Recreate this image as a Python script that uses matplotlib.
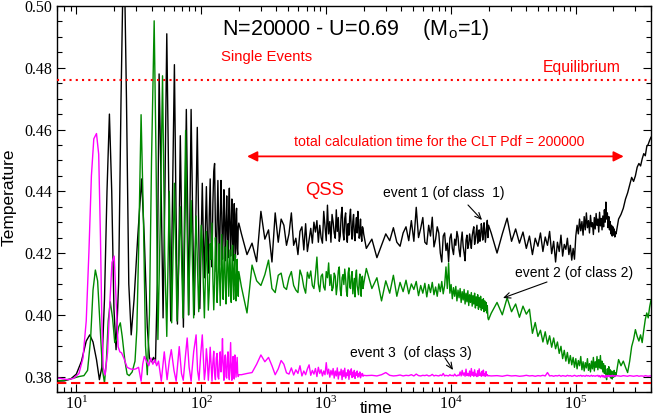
import numpy as np
import matplotlib
matplotlib.use("Agg")
import matplotlib.pyplot as plt

# ---------------- data ----------------
# time ranges of the regularly sampled segments (a, b, c, d, e)
seg_ranges = [(102, 200), (210, 2000), (2100, 20000), (21000, 210000), (220000, 400000)]

# ---- event 1 (black) ----
black_t_early = [6.5, 8.0, 9.0, 10.0, 11.0, 12.0, 12.8, 13.6, 14.5, 15.3,
                 16.0, 16.8, 17.6, 18.4, 19.2, 20.0, 20.8, 21.8, 22.8, 24.0,
                 25.2, 26.3, 27.5, 29.0, 31.0, 33.3, 35.0, 37.0, 38.5, 40.0,
                 41.5, 43.0, 44.5, 46.0, 47.8, 49.5, 51.2, 53.0, 55.0, 57.0,
                 59.0, 61.0, 62.8, 64.5, 66.3, 68.0, 70.0, 72.0, 74.0, 76.0,
                 77.8, 79.5, 81.3, 83.0, 85.5, 88.0, 90.5, 93.0, 95.3, 97.5, 100.0]
black_T_early = [0.3785, 0.3786, 0.3792, 0.3808, 0.3850, 0.3915, 0.3935, 0.3912, 0.3855, 0.3790,
                 0.3830, 0.4050, 0.4400, 0.4650, 0.4400, 0.4020, 0.3887, 0.4100, 0.4700, 0.5250,
                 0.4700, 0.4100, 0.3935, 0.4050, 0.4250, 0.4440, 0.4250, 0.3960, 0.3860, 0.3848,
                 0.3862, 0.3845, 0.4100, 0.4780, 0.4400, 0.3990, 0.4400, 0.4910, 0.4400, 0.3980,
                 0.4400, 0.4810, 0.4350, 0.3970, 0.4200, 0.4580, 0.4250, 0.3960, 0.4300, 0.4665,
                 0.4350, 0.4000, 0.4330, 0.4665, 0.4300, 0.4000, 0.4300, 0.4607, 0.4300, 0.4020, 0.4250]
black_T_a = [0.4426, 0.4250, 0.4120, 0.4280, 0.4415, 0.4260, 0.4135, 0.4320, 0.4440, 0.4240,
             0.4155, 0.4360, 0.4465, 0.4490, 0.4270, 0.4140, 0.4300, 0.4435, 0.4280, 0.4160,
             0.4310, 0.4435, 0.4330, 0.4180, 0.4260, 0.4405, 0.4310, 0.4175, 0.4290, 0.4385,
             0.4260, 0.4185, 0.4335, 0.4410, 0.4270, 0.4190, 0.4300, 0.4375, 0.4245, 0.4175,
             0.4295, 0.4360, 0.4230, 0.4185, 0.4325, 0.4345, 0.4215, 0.4195, 0.4285, 0.4297]
black_T_b = [0.4262, 0.4195, 0.4232, 0.4172, 0.4335, 0.4245, 0.4275, 0.4171, 0.4330, 0.4235,
             0.4310, 0.4290, 0.4225, 0.4262, 0.4330, 0.4225, 0.4248, 0.4195, 0.4270, 0.4285,
             0.4210, 0.4295, 0.4205, 0.4242, 0.4280, 0.4232, 0.4300, 0.4268, 0.4305, 0.4235,
             0.4290, 0.4250, 0.4232, 0.4335, 0.4288, 0.4240, 0.4355, 0.4262, 0.4302, 0.4235,
             0.4325, 0.4300, 0.4265, 0.4248, 0.4340, 0.4270, 0.4315, 0.4238, 0.4255, 0.4322,
             0.4348, 0.4268, 0.4242, 0.4312, 0.4330, 0.4262, 0.4235, 0.4295, 0.4258, 0.4318,
             0.4342, 0.4272, 0.4245, 0.4302, 0.4325, 0.4258, 0.4240, 0.4290, 0.4315, 0.4265,
             0.4335, 0.4298, 0.4248, 0.4262, 0.4310, 0.4255, 0.4238, 0.4285, 0.4280, 0.4262]
black_T_c = [0.4215, 0.4245, 0.4185, 0.4225, 0.4262, 0.4240, 0.4282, 0.4235, 0.4222, 0.4265,
             0.4285, 0.4240, 0.4305, 0.4238, 0.4348, 0.4250, 0.4280, 0.4315, 0.4235, 0.4228,
             0.4290, 0.4255, 0.4316, 0.4220, 0.4245, 0.4285, 0.4265, 0.4200, 0.4171, 0.4255,
             0.4265, 0.4208, 0.4232, 0.4172, 0.4248, 0.4262, 0.4215, 0.4195, 0.4245, 0.4225,
             0.4270, 0.4252, 0.4210, 0.4188, 0.4238, 0.4268, 0.4222, 0.4200, 0.4175, 0.4242,
             0.4258, 0.4215, 0.4228, 0.4262, 0.4240, 0.4215, 0.4255, 0.4272, 0.4285, 0.4228,
             0.4245, 0.4268, 0.4290, 0.4232, 0.4250, 0.4275, 0.4238, 0.4255, 0.4295, 0.4280,
             0.4242, 0.4258, 0.4298, 0.4272, 0.4235, 0.4262, 0.4285, 0.4306, 0.4250, 0.4290]
black_T_d = [0.4265, 0.4200, 0.4262, 0.4313, 0.4238, 0.4278, 0.4232, 0.4268, 0.4215, 0.4255,
             0.4195, 0.4248, 0.4222, 0.4265, 0.4205, 0.4252, 0.4225, 0.4270, 0.4198, 0.4238,
             0.4171, 0.4235, 0.4205, 0.4258, 0.4190, 0.4228, 0.4212, 0.4248, 0.4195, 0.4225,
             0.4177, 0.4215, 0.4180, 0.4255, 0.4290, 0.4262, 0.4310, 0.4272, 0.4302, 0.4258,
             0.4318, 0.4275, 0.4330, 0.4282, 0.4305, 0.4265, 0.4322, 0.4285, 0.4298, 0.4260,
             0.4315, 0.4278, 0.4328, 0.4290, 0.4310, 0.4268, 0.4332, 0.4288, 0.4312, 0.4275,
             0.4320, 0.4285, 0.4340, 0.4300, 0.4365, 0.4310, 0.4330, 0.4282, 0.4318, 0.4275,
             0.4302, 0.4262, 0.4290, 0.4255, 0.4285, 0.4258, 0.4278, 0.4252, 0.4268, 0.4262]
black_T_e = [0.4310, 0.4325, 0.4345, 0.4375, 0.4395, 0.4420, 0.4445, 0.4432, 0.4450, 0.4478,
             0.4490, 0.4482, 0.4505, 0.4522, 0.4515, 0.4545, 0.4552, 0.4565, 0.4575]

# ---- event 2 (green) ----
green_t_early = [6.5, 8.0, 9.5, 10.5, 11.5, 12.3, 13.0, 13.6, 14.2, 14.8,
                 15.5, 16.2, 16.8, 17.4, 18.0, 18.7, 19.5, 20.3, 21.0, 21.8,
                 22.5, 23.3, 24.5, 25.5, 26.5, 28.0, 29.5, 30.5, 31.5, 33.0,
                 34.5, 35.8, 37.0, 38.5, 40.0, 42.0, 43.5, 45.0, 47.0, 49.0,
                 51.0, 53.0, 55.5, 58.0, 61.0, 64.0, 68.0, 71.5, 75.0, 79.0,
                 83.0, 87.0, 91.0, 95.5, 100.0]
green_T_early = [0.3785, 0.3788, 0.3795, 0.3800, 0.3803, 0.3820, 0.3920, 0.4080, 0.4145, 0.4110,
                 0.3960, 0.3820, 0.3780, 0.3850, 0.3980, 0.4042, 0.3990, 0.3910, 0.3920, 0.3960,
                 0.3974, 0.3930, 0.3850, 0.3808, 0.3803, 0.3815, 0.3850, 0.3950, 0.4200, 0.4648,
                 0.4300, 0.3900, 0.3806, 0.4000, 0.4500, 0.4952, 0.4500, 0.3920, 0.4300, 0.4774,
                 0.4200, 0.3930, 0.4400, 0.3974, 0.4426, 0.3980, 0.4350, 0.3990, 0.4597, 0.4000,
                 0.4370, 0.3990, 0.4320, 0.4010, 0.4290]
green_T_a = [0.4240, 0.4100, 0.3990, 0.4120, 0.4270, 0.4150, 0.4015, 0.4080, 0.4230, 0.4180,
             0.4297, 0.4120, 0.4016, 0.4100, 0.4250, 0.4170, 0.4040, 0.4110, 0.4230, 0.4140,
             0.4030, 0.4150, 0.4260, 0.4120, 0.4050, 0.4170, 0.4220, 0.4100, 0.4035, 0.4140,
             0.4240, 0.4160, 0.4060, 0.4130, 0.4210, 0.4090, 0.4040, 0.4160, 0.4225, 0.4110,
             0.4050, 0.4150, 0.4195, 0.4080, 0.4045, 0.4130, 0.4180, 0.4100, 0.4060, 0.4140]
green_T_b = [0.4090, 0.4006, 0.4161, 0.4110, 0.4095, 0.4130, 0.4177, 0.4085, 0.4072, 0.4128,
             0.4135, 0.4090, 0.4082, 0.4120, 0.4140, 0.4095, 0.4080, 0.4072, 0.4145, 0.4125,
             0.4090, 0.4070, 0.4138, 0.4118, 0.4142, 0.4095, 0.4085, 0.4130, 0.4187, 0.4100,
             0.4075, 0.4125, 0.4132, 0.4090, 0.4080, 0.4140, 0.4120, 0.4168, 0.4095, 0.4130,
             0.4078, 0.4088, 0.4135, 0.4125, 0.4065, 0.4095, 0.4142, 0.4155, 0.4082, 0.4062,
             0.4120, 0.4130, 0.4098, 0.4148, 0.4118, 0.4075, 0.4060, 0.4135, 0.4152, 0.4090,
             0.4085, 0.4125, 0.4140, 0.4068, 0.4092, 0.4118, 0.4058, 0.4128, 0.4145, 0.4095,
             0.4080, 0.4065, 0.4112, 0.4132, 0.4088, 0.4060, 0.4120, 0.4125, 0.4085, 0.4100]
green_T_c = [0.4150, 0.4085, 0.4120, 0.4045, 0.4110, 0.4070, 0.4128, 0.4060, 0.4105, 0.4075,
             0.4112, 0.4068, 0.4100, 0.4082, 0.4108, 0.4062, 0.4095, 0.4070, 0.4102, 0.4058,
             0.4098, 0.4072, 0.4105, 0.4065, 0.4090, 0.4060, 0.4100, 0.4075, 0.4108, 0.4068,
             0.4095, 0.4155, 0.4085, 0.4168, 0.4070, 0.4098, 0.4052, 0.4088, 0.4060, 0.4092,
             0.4045, 0.4080, 0.4055, 0.4085, 0.4040, 0.4075, 0.4048, 0.4082, 0.4035, 0.4070,
             0.4042, 0.4078, 0.4030, 0.4065, 0.4040, 0.4072, 0.4028, 0.4062, 0.4035, 0.4070,
             0.4022, 0.4058, 0.4030, 0.4065, 0.4018, 0.4055, 0.4025, 0.4060, 0.4015, 0.4048,
             0.4020, 0.4052, 0.4010, 0.4045, 0.4015, 0.4040, 0.4006, 0.4030, 0.3990, 0.3984]
green_T_d = [0.4005, 0.4040, 0.4000, 0.4055, 0.4010, 0.4035, 0.3992, 0.4028, 0.4002, 0.4018,
             0.3940, 0.3975, 0.3930, 0.3950, 0.3912, 0.3945, 0.3905, 0.3932, 0.3895, 0.3925,
             0.3890, 0.3912, 0.3875, 0.3898, 0.3858, 0.3885, 0.3850, 0.3878, 0.3842, 0.3868,
             0.3838, 0.3862, 0.3830, 0.3858, 0.3825, 0.3852, 0.3835, 0.3865, 0.3822, 0.3848,
             0.3818, 0.3845, 0.3828, 0.3858, 0.3820, 0.3842, 0.3815, 0.3850, 0.3825, 0.3862,
             0.3818, 0.3848, 0.3830, 0.3865, 0.3822, 0.3855, 0.3828, 0.3868, 0.3825, 0.3850,
             0.3815, 0.3842, 0.3810, 0.3835, 0.3800, 0.3790, 0.3825, 0.3805, 0.3832, 0.3800,
             0.3822, 0.3795, 0.3818, 0.3792, 0.3815, 0.3798, 0.3820, 0.3800, 0.3812, 0.3805]
green_T_e = [0.3855, 0.3835, 0.3850, 0.3830, 0.3813, 0.3850, 0.3897, 0.3920, 0.3952, 0.3930,
             0.3915, 0.3935, 0.3910, 0.3950, 0.3985, 0.4006, 0.3990, 0.4025, 0.4048]

# ---- event 3 (magenta) ----
magenta_t_early = [6.5, 7.5, 8.5, 9.5, 10.5, 11.3, 12.0, 12.6, 13.2, 13.8,
                   14.5, 15.1, 15.6, 16.0, 16.4, 17.0, 17.8, 18.6, 19.3, 20.1,
                   20.8, 21.6, 22.3, 23.0, 24.0, 25.5, 27.0, 28.5, 30.0, 31.5,
                   33.0, 34.0, 35.0, 36.5, 38.0, 39.5, 41.0, 42.5, 44.0, 45.5,
                   47.9, 50.6, 53.3, 55.5, 57.6, 60.5, 63.0, 66.7, 69.5, 71.8,
                   74.5, 77.2, 80.0, 83.0, 87.0, 91.0, 93.5, 96.0, 99.0]
magenta_T_early = [0.3797, 0.3794, 0.3790, 0.3794, 0.3810, 0.3860, 0.3980, 0.4200, 0.4450, 0.4570,
                   0.4587, 0.4520, 0.4250, 0.3980, 0.3830, 0.3805, 0.3880, 0.4050, 0.4170, 0.4190,
                   0.4050, 0.3897, 0.3880, 0.3877, 0.3860, 0.3830, 0.3825, 0.3823, 0.3825, 0.3830,
                   0.3785, 0.3840, 0.3865, 0.3850, 0.3835, 0.3860, 0.3840, 0.3855, 0.3835, 0.3850,
                   0.3785, 0.3880, 0.3790, 0.3850, 0.3887, 0.3820, 0.3785, 0.3897, 0.3810, 0.3788,
                   0.3860, 0.3925, 0.3830, 0.3785, 0.3880, 0.3935, 0.3820, 0.3788, 0.3870]
magenta_T_a = [0.3935, 0.3860, 0.3790, 0.3820, 0.3890, 0.3850, 0.3788, 0.3830, 0.3895, 0.3840,
               0.3785, 0.3845, 0.3882, 0.3810, 0.3790, 0.3860, 0.3875, 0.3800, 0.3792, 0.3850,
               0.3880, 0.3815, 0.3850, 0.3923, 0.3830, 0.3788, 0.3855, 0.3870, 0.3800, 0.3795,
               0.3860, 0.3880, 0.3810, 0.3790, 0.3850, 0.3910, 0.3820, 0.3788, 0.3840, 0.3865,
               0.3805, 0.3792, 0.3870, 0.3845, 0.3798, 0.3830, 0.3862, 0.3810, 0.3800, 0.3806]
magenta_T_b = [0.3806, 0.3810, 0.3813, 0.3840, 0.3870, 0.3848, 0.3862, 0.3835, 0.3806, 0.3825,
               0.3852, 0.3840, 0.3812, 0.3808, 0.3828, 0.3805, 0.3822, 0.3810, 0.3835, 0.3802,
               0.3818, 0.3806, 0.3825, 0.3838, 0.3804, 0.3820, 0.3808, 0.3826, 0.3800, 0.3830,
               0.3810, 0.3822, 0.3802, 0.3818, 0.3806, 0.3845, 0.3808, 0.3824, 0.3798, 0.3820,
               0.3805, 0.3826, 0.3795, 0.3818, 0.3802, 0.3828, 0.3792, 0.3815, 0.3805, 0.3824,
               0.3790, 0.3820, 0.3800, 0.3827, 0.3795, 0.3812, 0.3803, 0.3822, 0.3791, 0.3818,
               0.3806, 0.3825, 0.3797, 0.3814, 0.3800, 0.3820, 0.3794, 0.3812, 0.3804, 0.3818,
               0.3798, 0.3810, 0.3802, 0.3815, 0.3796, 0.3808, 0.3803, 0.3810, 0.3801, 0.3804]
magenta_T_c = [0.3803, 0.3804, 0.3802, 0.3806, 0.3813, 0.3804, 0.3802, 0.3803, 0.3805, 0.3802,
               0.3804, 0.3803, 0.3806, 0.3802, 0.3808, 0.3803, 0.3802, 0.3804, 0.3803, 0.3805,
               0.3802, 0.3803, 0.3807, 0.3802, 0.3804, 0.3803, 0.3802, 0.3805, 0.3803, 0.3810,
               0.3802, 0.3804, 0.3803, 0.3802, 0.3806, 0.3803, 0.3804, 0.3802, 0.3808, 0.3803,
               0.3802, 0.3805, 0.3803, 0.3815, 0.3802, 0.3820, 0.3804, 0.3812, 0.3801, 0.3824,
               0.3803, 0.3810, 0.3802, 0.3818, 0.3800, 0.3826, 0.3804, 0.3814, 0.3801, 0.3822,
               0.3803, 0.3808, 0.3800, 0.3819, 0.3802, 0.3825, 0.3804, 0.3811, 0.3801, 0.3817,
               0.3803, 0.3821, 0.3802, 0.3809, 0.3801, 0.3816, 0.3803, 0.3806, 0.3802, 0.3803]
magenta_T_d = [0.3802, 0.3803, 0.3801, 0.3804, 0.3802, 0.3803, 0.3801, 0.3802, 0.3804, 0.3802,
               0.3803, 0.3801, 0.3803, 0.3802, 0.3804, 0.3802, 0.3813, 0.3802, 0.3803, 0.3801,
               0.3803, 0.3802, 0.3804, 0.3801, 0.3803, 0.3802, 0.3801, 0.3804, 0.3802, 0.3803,
               0.3801, 0.3802, 0.3804, 0.3802, 0.3801, 0.3803, 0.3802, 0.3804, 0.3801, 0.3803,
               0.3802, 0.3801, 0.3804, 0.3802, 0.3803, 0.3801, 0.3802, 0.3804, 0.3801, 0.3803,
               0.3802, 0.3801, 0.3803, 0.3802, 0.3804, 0.3800, 0.3803, 0.3798, 0.3802, 0.3804,
               0.3799, 0.3803, 0.3797, 0.3802, 0.3804, 0.3798, 0.3803, 0.3801, 0.3804, 0.3799,
               0.3802, 0.3803, 0.3801, 0.3804, 0.3802, 0.3801, 0.3803, 0.3802, 0.3801, 0.3803]
magenta_T_e = [0.3802, 0.3801, 0.3803, 0.3802, 0.3801, 0.3803, 0.3802, 0.3801, 0.3802, 0.3803,
               0.3801, 0.3802, 0.3802, 0.3801, 0.3803, 0.3802, 0.3801, 0.3802, 0.3802]

T_equilibrium = 0.476
T_reference = 0.378
clt_time = (233, 242000)
clt_T = 0.4513

y_ticks = [0.38, 0.40, 0.42, 0.44, 0.46, 0.48, 0.50]
x_lim = (7, 4.0e5)
y_lim = (0.375, 0.50)


def build(t_early, T_early, segs):
    t = list(t_early)
    T = list(T_early)
    for (t0, t1), vals in zip(seg_ranges, segs):
        t.extend(np.linspace(t0, t1, len(vals)))
        T.extend(vals)
    return np.array(t), np.array(T)


bt, bT = build(black_t_early, black_T_early,
               [black_T_a, black_T_b, black_T_c, black_T_d, black_T_e])
gt, gT = build(green_t_early, green_T_early,
               [green_T_a, green_T_b, green_T_c, green_T_d, green_T_e])
mt, mT = build(magenta_t_early, magenta_T_early,
               [magenta_T_a, magenta_T_b, magenta_T_c, magenta_T_d, magenta_T_e])

# ---------------- plot ----------------
plt.rcParams['font.family'] = ['Liberation Sans', 'DejaVu Sans']

fig = plt.figure(figsize=(6.54, 4.17), dpi=100)
ax = fig.add_axes([57 / 654, 25 / 417, 594 / 654, 386 / 417])

ax.plot(bt, bT, color='black', lw=1.0, zorder=2)
ax.plot(gt, gT, color='#008a00', lw=1.0, zorder=2.1)
ax.plot(mt, mT, color='#ff00ff', lw=1.0, zorder=2.2)

ax.axhline(T_equilibrium, color='red', lw=1.5, linestyle=(0, (1, 2)), zorder=3)
ax.axhline(T_reference, color='red', lw=1.5, linestyle=(0, (4.5, 2.2)), zorder=3)

ax.set_xscale('log')
ax.set_xlim(*x_lim)
ax.set_ylim(*y_lim)
ax.set_yticks(y_ticks)
ax.set_yticklabels([f"{v:.2f}" for v in y_ticks])
ax.yaxis.set_minor_locator(matplotlib.ticker.MultipleLocator(0.005))

ax.tick_params(which='both', direction='in', top=True, right=True,
               labelfontfamily='Liberation Serif', labelsize=11.5)
ax.tick_params(which='major', length=6, width=0.8)
ax.tick_params(which='minor', length=3.5, width=0.8)
ax.tick_params(axis='y', pad=3.5)
ax.tick_params(axis='x', pad=3)
for s in ax.spines.values():
    s.set_linewidth(1.0)

tr = ax.transAxes
ax.text(-0.080, 0.505, 'Temperature', rotation=90, ha='center', va='center',
        fontsize=12.5, transform=tr)
ax.text(0.538, -0.054, 'time', ha='center', va='baseline', fontsize=12.5,
        transform=tr, clip_on=False)

ax.text(0.2778, 0.925, r'N=20000 - U=0.69    $\mathregular{(M_o}$=1)', ha='left',
        va='baseline', fontsize=15.5, transform=tr)
ax.text(0.2761, 0.8583, 'Single Events', color='red', ha='left', va='baseline',
        fontsize=10.7, transform=tr)
ax.text(0.8182, 0.8282, 'Equilibrium', color='red', ha='left', va='baseline',
        fontsize=11.3, transform=tr)
ax.text(0.6439, 0.6373, 'total calculation time for the CLT Pdf = 200000', color='red',
        ha='center', va='baseline', fontsize=10.2, transform=tr)
ax.text(0.4503, 0.5104, 'QSS', color='red', ha='center', va='baseline',
        fontsize=13.3, transform=tr)
ax.text(0.6515, 0.5039, 'event 1 (of class  1)', ha='center', va='baseline',
        fontsize=10, transform=tr)
ax.text(0.8712, 0.2987, 'event 2 (of class 2)', ha='center', va='baseline',
        fontsize=10, transform=tr)
ax.text(0.596, 0.0899, 'event 3  (of class 3)', ha='center', va='baseline',
        fontsize=10, transform=tr)

arrow_kw = dict(arrowstyle='->,head_length=0.45,head_width=0.2', color='black', lw=0.8,
                shrinkA=0, shrinkB=0)
ax.annotate('', xy=(0.7155, 0.4456), xytext=(0.6919, 0.4845), xycoords=tr,
            textcoords=tr, arrowprops=arrow_kw)
ax.annotate('', xy=(0.7508, 0.2435), xytext=(0.8249, 0.2850), xycoords=tr,
            textcoords=tr, arrowprops=arrow_kw)
ax.annotate('', xy=(0.6667, 0.0570), xytext=(0.6532, 0.0881), xycoords=tr,
            textcoords=tr, arrowprops=arrow_kw)

ax.annotate('', xy=(clt_time[1], clt_T), xytext=(clt_time[0], clt_T),
            arrowprops=dict(arrowstyle='<|-|>,head_length=0.6,head_width=0.3',
                            color='red', lw=1.3, shrinkA=0, shrinkB=0))

fig.savefig('out.png', dpi=100)
